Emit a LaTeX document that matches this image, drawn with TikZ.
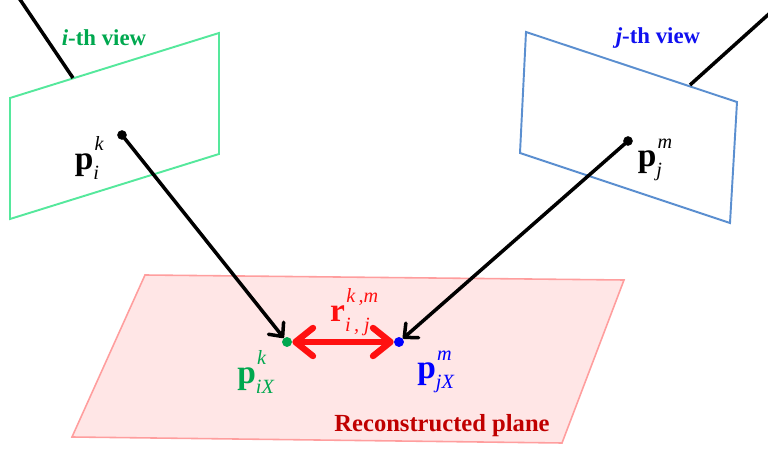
\documentclass[tikz,border=0pt]{standalone}
\usepackage{fontspec}
\setmainfont{Liberation Serif}
\usetikzlibrary{arrows.meta}
\definecolor{viewgreen}{HTML}{55E89C}
\definecolor{textgreen}{HTML}{00A84F}
\definecolor{viewblue}{HTML}{5B8FD0}
\definecolor{textblue}{HTML}{1010F0}
\definecolor{planefill}{HTML}{FFE6E6}
\definecolor{planeedge}{HTML}{FF9E9E}
\definecolor{planered}{HTML}{C00000}
\definecolor{resred}{HTML}{FF1010}
% bold symbol with italic superscript and subscript
\newcommand{\ptsym}[3]{\textbf{#1}\makebox[0pt][l]{\raisebox{0.55em}{\fontsize{11.5}{12}\selectfont\hspace{0.06em}\textit{#2}}}\raisebox{-0.3em}{\fontsize{11.5}{12}\selectfont\textit{#3}}}
\tikzset{
  ray/.style={line width=2pt, -{Straight Barb[length=6pt, width=11pt, round]}},
  ptlabel/.style={font=\fontsize{19}{21}\selectfont},
  viewlabel/.style={font=\bfseries\fontsize{13}{15}\selectfont}
}
\begin{document}
\begin{tikzpicture}[x=0.02cm, y=-0.02cm]
        \useasboundingbox (0,0) rectangle (768,449);
        % --- 1. Reconstructed Plane (bottom) ---
        \filldraw[fill=planefill, draw=planeedge, line width=0.9pt]
            (145,275) -- (624,280) -- (562,443) -- (72,437) -- cycle;
        \node[planered, font=\bfseries\fontsize{14}{16}\selectfont] (plane_lbl) at (442,426) {Reconstructed plane};

        % --- 2. i-th View (Green) ---
        \draw[viewgreen, line width=1.1pt] (10,98) -- (219,33) -- (219,154) -- (10,219) -- cycle;
        \coordinate (cam_i) at (19,-2);
        \coordinate (edge_i) at (73,78);
        \draw[line width=2pt] (cam_i) -- (edge_i);
        \node[textgreen, viewlabel] (view_i) at (104,38) {\textit{i}-th view};
        \coordinate (p_i) at (122,135);
        \node[ptlabel] (p_i_lbl) at (87,158) {\ptsym{p}{k}{i}};

        % --- 3. j-th View (Blue) ---
        \draw[viewblue, line width=1.1pt] (526,32) -- (737,102) -- (730,223) -- (520,153) -- cycle;
        \coordinate (cam_j) at (770,13);
        \coordinate (edge_j) at (690,85);
        \draw[line width=2pt] (cam_j) -- (edge_j);
        \node[textblue, viewlabel] (view_j) at (658,38) {\textit{j}-th view};
        \coordinate (p_j) at (628,141);
        \node[ptlabel] (p_j_lbl) at (650,160) {\ptsym{p}{m}{j}};

        % --- 4. Projections onto the plane ---
        \coordinate (p_iX) at (287,342);
        \coordinate (p_jX) at (399,342);
        \draw[ray, shorten >=3pt] (p_i) -- (p_iX);
        \draw[ray, shorten >=3pt] (p_j) -- (p_jX);
        \filldraw[black] (p_i) circle (2.5pt);
        \filldraw[black] (p_j) circle (2.5pt);

        % Residual (Red)
        \draw[resred, line width=3.6pt, shorten <=3pt, shorten >=3pt,
            {Straight Barb[length=10pt, width=16pt, round]}-{Straight Barb[length=10pt, width=16pt, round]}]
            (p_iX) -- (p_jX);
        \filldraw[textgreen] (p_iX) circle (2.6pt);
        \filldraw[blue] (p_jX) circle (2.6pt);
        \node[resred, ptlabel] (r_lbl) at (350,312) {\ptsym{r}{k\,,m}{i\,, j}};
        \node[textgreen, ptlabel] (p_iX_lbl) at (256,372) {\ptsym{p}{k}{iX}};
        \node[blue, ptlabel] (p_jX_lbl) at (436,372) {\ptsym{p}{m}{jX}};

    \end{tikzpicture}
\end{document}
